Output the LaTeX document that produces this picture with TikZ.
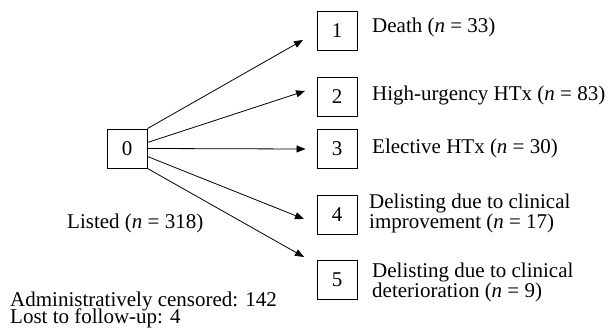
\documentclass[tikz,border=0pt]{standalone}
\usepackage{fontspec}
\setmainfont{Liberation Serif}
\usepackage{tikz}
\usetikzlibrary{positioning, arrows.meta}

\begin{document}
\begin{tikzpicture}[
    x=1pt, y=-1pt,
    state/.style={
      draw, rectangle, inner sep=0pt,
      minimum width=40pt, minimum height=39pt,
      font=\fontsize{21}{21}\selectfont, line width=0.9pt
    },
    lbl/.style={
      inner sep=0pt, align=left,
      font={\fontsize{21}{20}\selectfont\lineskiplimit=-100pt}
    },
    arrow/.style={-{Triangle[length=9pt, width=7pt]}, line width=0.8pt}
  ]
    \useasboundingbox (0,0) rectangle (612,329);

    % ── States ──
    \node[state] (s0) at (127,148.5) {0};
    \node[state] (s1) at (337,31) {1};
    \node[state] (s2) at (337,97) {2};
    \node[state] (s3) at (337,149) {3};
    \node[state] (s4) at (337,215) {4};
    \node[state] (s5) at (337,280) {5};

    % ── Arrow ends ──
    \coordinate (e1) at (303,40);
    \coordinate (e2) at (305,91);
    \coordinate (e4) at (304,219);
    \coordinate (e5) at (304,257);

    \draw[arrow] (s0.north east) -- (e1);
    \draw[arrow] ([yshift=6pt]s0.east) -- (e2);
    \draw[arrow] (s0.east) -- ([xshift=-11pt]s3.west);
    \draw[arrow] ([yshift=-8pt]s0.east) -- (e4);
    \draw[arrow] (s0.south east) -- (e5);

    % ── Labels ──
    \node[lbl, anchor=base west] (d1) at (372,33) {Death (\textit{n} = 33)};
    \node[lbl, anchor=base west] (d2) at (372,100) {High-urgency HTx (\textit{n} = 83)};
    \node[lbl, anchor=base west] (d3) at (372,153) {Elective HTx (\textit{n} = 30)};
    \node[lbl, anchor=base west] (d4) at (369,228)
      {Delisting due to clinical\\improvement (\textit{n} = 17)};
    \node[lbl, anchor=base west] (d5) at (372,297)
      {Delisting due to clinical\\deterioration (\textit{n} = 9)};

    \node[lbl, anchor=base west] (listed) at (67,228) {Listed (\textit{n} = 318)};
    \node[lbl, anchor=base west,
          font={\fontsize{21}{16.5}\selectfont\lineskiplimit=-100pt}] (cens) at (10,323)
      {Administratively censored: 142\\Lost to follow-up: 4};

\end{tikzpicture}
\end{document}
